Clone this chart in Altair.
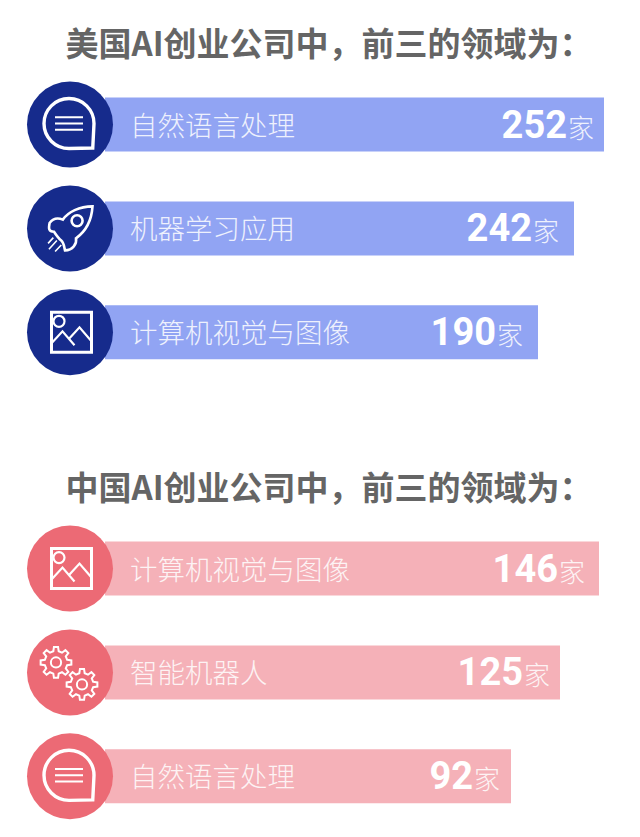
import math
import altair as alt
import pandas as pd

# ---- chart values ----
groups = ["美国", "美国", "美国", "中国", "中国", "中国"]
fields = ["自然语言处理", "机器学习应用", "计算机视觉与图像", "计算机视觉与图像", "智能机器人", "自然语言处理"]
counts = [252, 242, 190, 146, 125, 92]
icons = ["chat", "rocket", "image", "image", "gears", "chat"]
# drawn length of each bar (the source bars are not to scale)
bar_lengths = [499, 469, 433, 494, 455, 406]
tail_gaps = [37, 42, 42, 41, 37, 38]
slots = [0, 1, 2, 4.275, 5.275, 6.275]
titles = ["美国AI创业公司中，前三的领域为：", "中国AI创业公司中，前三的领域为："]
title_slots = [-0.78, 3.5]
bar_colors = {"美国": "#91a4f3", "中国": "#f5b1b8"}
disc_colors = {"美国": "#162b8c", "中国": "#ec6a75"}
unit = "家"

CJK = "Noto Sans CJK SC"
W, H = 624, 821

# Icon outlines in unit coordinates
P_CHAT = "M0.95 0.98 L0 1 A1 1 0 1 1 1 0 Z"
P_LINES = "M-0.56 -0.25 L0.56 -0.25 M-0.56 0 L0.56 0 M-0.56 0.25 L0.56 0.25"
P_FRAME = "M-1 -1 L1 -1 L1 1 L-1 1 Z"
P_IMG = ("M-1 0.55 L-0.45 -0.05 L0.15 0.65 M-0.1 0.3 L0.4 -0.25 L1 0.45 "
         "M-0.35 -0.55 A0.27 0.27 0 1 1 -0.9 -0.55 A0.27 0.27 0 1 1 -0.35 -0.55 Z")
P_ROCKET = ("M1 -1 C0.95 -0.2 0.6 0.2 0.25 0.45 C0.3 0.7 0.1 1 -0.25 1 C-0.3 0.8 -0.3 0.65 -0.42 0.55 "
            "C-0.55 0.45 -0.65 0.3 -0.75 0.15 C-1 0.15 -1 0 -0.95 -0.25 C-0.8 -0.45 -0.6 -0.5 -0.35 -0.4 "
            "C-0.1 -0.75 0.4 -1 1 -1 Z "
            "M0.55 -0.35 A0.25 0.25 0 1 1 0.05 -0.35 A0.25 0.25 0 1 1 0.55 -0.35 Z")
P_TRAIL = "M-0.62 0.55 L-0.98 0.95 M-0.42 0.75 L-0.7 1.05 M-0.78 0.42 L-1.02 0.68"


def gear_path(teeth=8, outer=1.0, inner=0.74, hub=0.33):
    pts = []
    step = 2 * math.pi / teeth
    for i in range(teeth):
        a = i * step
        for off, r in [(-0.30, inner), (-0.17, outer), (0.17, outer), (0.30, inner)]:
            t = a + off * step * 1.0
            pts.append((r * math.cos(t), r * math.sin(t)))
    d = "M" + " L".join(f"{x:.3f} {y:.3f}" for x, y in pts) + " Z "
    d += f"M{hub} 0 A{hub} {hub} 0 1 1 {-hub} 0 A{hub} {hub} 0 1 1 {hub} 0 Z"
    return d


rows = pd.DataFrame({
    "group": groups, "field": fields, "count": counts, "icon": icons,
    "length": bar_lengths, "gap": tail_gaps, "slot": slots,
})
rows["bar_color"] = rows["group"].map(bar_colors)
rows["disc_color"] = rows["group"].map(disc_colors)

x_scale = alt.Scale(domain=[0, W], range=[0, W], nice=False, zero=False)
y_scale = alt.Scale(domain=[-1.074, 6.734], range=[0, H], nice=False, zero=False)
Y = alt.Y("slot:Q", scale=y_scale, axis=None)

base = alt.Chart(rows)

bars = base.mark_bar(height=54).transform_calculate(start="97", end="97 + datum.length").encode(
    x=alt.X("start:Q", scale=x_scale, axis=None),
    x2="end:Q",
    y=Y,
    color=alt.Color("bar_color:N", scale=None),
)

discs = base.mark_point(filled=True, opacity=1, shape="circle", size=7396).transform_calculate(
    cx="62"
).encode(
    x=alt.X("cx:Q", scale=x_scale, axis=None),
    y=Y,
    color=alt.Color("disc_color:N", scale=None),
)

labels = base.mark_text(align="left", baseline="middle", font=CJK, fontSize=27.5, fontWeight=300,
                        color="#ffffff", opacity=0.85, dy=3).transform_calculate(lx="122").encode(
    x=alt.X("lx:Q", scale=x_scale, axis=None),
    y=Y,
    text="field:N",
)

nums = base.mark_text(align="right", baseline="middle", font="Roboto", fontWeight="bold",
                      fontSize=38, color="#ffffff", dy=2).transform_calculate(
    nx="97 + datum.length - datum.gap").encode(
    x=alt.X("nx:Q", scale=x_scale, axis=None),
    y=Y,
    text="count:Q",
)

units = base.mark_text(align="left", baseline="middle", font=CJK, fontSize=26, fontWeight=300,
                       color="#ffffff", opacity=0.85, dy=5).transform_calculate(
    ux="97 + datum.length - datum.gap + 1", u=f"'{unit}'").encode(
    x=alt.X("ux:Q", scale=x_scale, axis=None),
    y=Y,
    text="u:N",
)


def icon_layer(kind, path, radius, dx=0, dy=0, sw=3.0):
    ch = base.transform_filter(alt.datum.icon == kind).transform_calculate(cx=str(62 + dx)).encode(
        x=alt.X("cx:Q", scale=x_scale, axis=None),
        y=Y,
    )
    return ch.mark_point(shape=path, size=(2 * radius) ** 2, filled=False, opacity=1,
                         stroke="#ffffff", strokeWidth=sw, yOffset=dy)


icon_layers = [
    icon_layer("chat", P_CHAT, 25, -1, -1, 3.4),
    icon_layer("chat", P_LINES, 25, -1, -1, 2.0),
    icon_layer("image", P_FRAME, 20, 1.5, 0, 3.0),
    icon_layer("image", P_IMG, 20, 1.5, 0, 2.2),
    icon_layer("rocket", P_ROCKET, 22, 0.5, 0, 2.6),
    icon_layer("rocket", P_TRAIL, 22, 0.5, 0, 1.6),
    icon_layer("gears", gear_path(), 15.5, -14, -10, 2.0),
    icon_layer("gears", gear_path(), 15.5, 12, 12, 2.0),
]

title_df = pd.DataFrame({"t": titles, "slot": title_slots, "shift": [1, 3]})
title_marks = alt.Chart(title_df).mark_text(
    align="center", baseline="middle", font=CJK, fontWeight="bold", fontSize=33, color="#656565", dy=2
).transform_calculate(tx="321").encode(
    x=alt.X("tx:Q", scale=x_scale, axis=None),
    y=Y,
    text="t:N",
)

chart = alt.layer(bars, discs, labels, nums, units, *icon_layers, title_marks).properties(
    width=W, height=H, padding=0, background="#ffffff",
).configure_view(stroke=None)

chart.save("out.html", embed_options={"renderer": "svg", "actions": False})
